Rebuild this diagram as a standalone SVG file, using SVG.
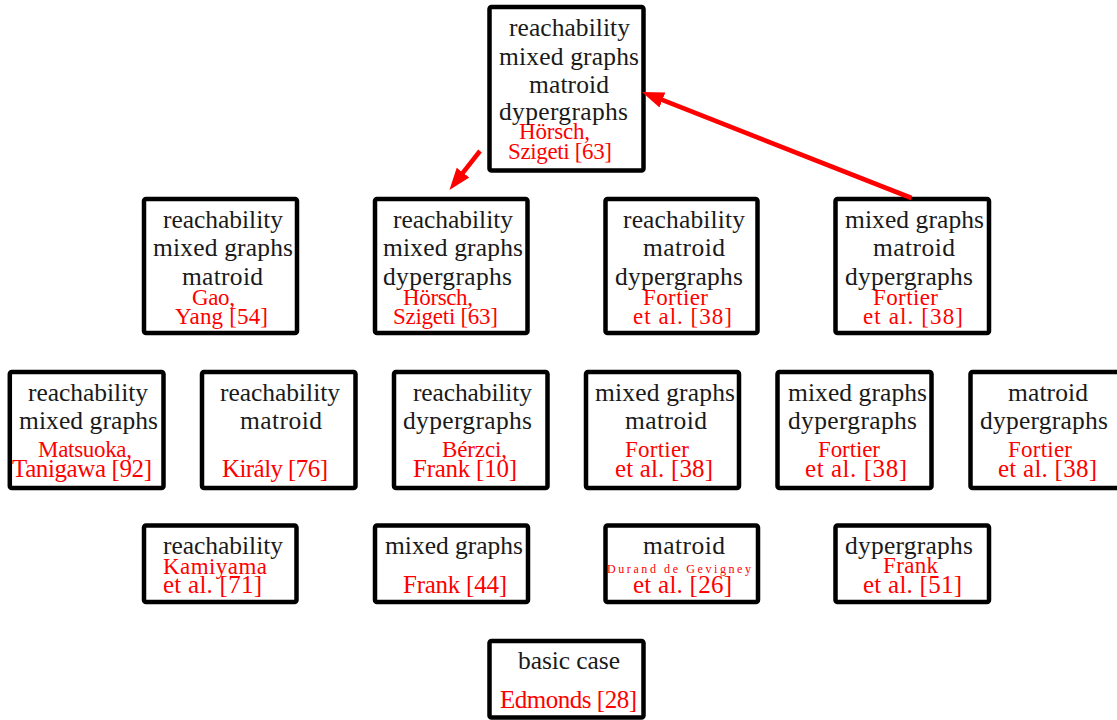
<svg xmlns="http://www.w3.org/2000/svg" width="1117" height="720" viewBox="0 0 1117 720">
<style>
.box{fill:#fff;stroke:#000;stroke-width:4.5;stroke-linejoin:round}
text{font-family:"Liberation Serif","Times New Roman",serif;text-anchor:middle}
.t{font-size:25.5px;fill:#1a1a1a}
.r{font-size:23px;fill:#ff0000}
.rl{font-size:25px;fill:#ff0000}
.rs{font-size:12px;fill:#ff0000}
.arrow{stroke:#ff0000;stroke-width:4.6;fill:none}
</style>
<defs>
<marker id="ah" markerUnits="userSpaceOnUse" markerWidth="24" markerHeight="20" viewBox="0 -10 24 20" refX="1" refY="0" orient="auto">
<path d="M0,-8 L22,0 L0,8 Z" fill="#ff0000"/>
</marker>
</defs>

<g id="n_top">
<rect class="box" x="489.5" y="7" width="154" height="163.5" rx="2"/>
<text class="t" x="569.5" y="36" textLength="121">reachability</text>
<text class="t" x="569" y="64.5" textLength="140">mixed graphs</text>
<text class="t" x="569" y="93" textLength="80">matroid</text>
<text class="t" x="563.5" y="120" textLength="129">dypergraphs</text>
<text class="r" x="554.5" y="139" textLength="71">Hörsch,</text>
<text class="r" x="560" y="159" textLength="104">Szigeti [63]</text>
</g>

<g id="n_rmm">
<rect class="box" x="144" y="199" width="153" height="134" rx="2"/>
<text class="t" x="223" y="227.5" textLength="120">reachability</text>
<text class="t" x="223" y="256" textLength="140">mixed graphs</text>
<text class="t" x="222.5" y="285" textLength="81">matroid</text>
<text class="r" x="213.5" y="305" textLength="43">Gao,</text>
<text class="r" x="221.5" y="324" textLength="93">Yang [54]</text>
</g>

<g id="n_rmd">
<rect class="box" x="375" y="199" width="152.5" height="134" rx="2"/>
<text class="t" x="453" y="227.5" textLength="120">reachability</text>
<text class="t" x="453" y="256" textLength="140">mixed graphs</text>
<text class="t" x="447.5" y="285" textLength="129">dypergraphs</text>
<text class="r" x="438" y="305" textLength="70">Hörsch,</text>
<text class="r" x="445.5" y="324" textLength="105">Szigeti [63]</text>
</g>

<g id="n_rtd">
<rect class="box" x="605.5" y="199" width="152" height="134" rx="2"/>
<text class="t" x="684" y="227.5" textLength="122">reachability</text>
<text class="t" x="684" y="256" textLength="82">matroid</text>
<text class="t" x="679" y="285" textLength="128">dypergraphs</text>
<text class="r" x="675.5" y="305" textLength="65">Fortier</text>
<text class="r" x="682.5" y="324" textLength="99">et al. [38]</text>
</g>

<g id="n_mtd">
<rect class="box" x="835.5" y="199" width="153.5" height="134" rx="2"/>
<text class="t" x="914.5" y="227.5" textLength="139">mixed graphs</text>
<text class="t" x="914" y="256" textLength="82">matroid</text>
<text class="t" x="909" y="285" textLength="128">dypergraphs</text>
<text class="r" x="905.5" y="305" textLength="65">Fortier</text>
<text class="r" x="913" y="324" textLength="100">et al. [38]</text>
</g>

<g id="n_rm">
<rect class="box" x="9.8" y="372" width="153.7" height="116" rx="2"/>
<text class="t" x="88" y="401" textLength="120">reachability</text>
<text class="t" x="88.5" y="429" textLength="139">mixed graphs</text>
<text class="r" x="85" y="457" textLength="94">Matsuoka,</text>
<text class="rl" x="82" y="477" textLength="140">Tanigawa [92]</text>
</g>

<g id="n_rt">
<rect class="box" x="202" y="372" width="153.5" height="116" rx="2"/>
<text class="t" x="280" y="401" textLength="120">reachability</text>
<text class="t" x="281" y="429" textLength="82">matroid</text>
<text class="rl" x="275" y="477" textLength="106">Király [76]</text>
</g>

<g id="n_rd">
<rect class="box" x="394" y="372" width="153.5" height="116" rx="2"/>
<text class="t" x="472.5" y="401" textLength="119">reachability</text>
<text class="t" x="467.5" y="429" textLength="129">dypergraphs</text>
<text class="r" x="474.5" y="457" textLength="65">Bérzci,</text>
<text class="rl" x="465" y="477" textLength="104">Frank [10]</text>
</g>

<g id="n_mt">
<rect class="box" x="586" y="372" width="153" height="116" rx="2"/>
<text class="t" x="665" y="401" textLength="140">mixed graphs</text>
<text class="t" x="666" y="429" textLength="82">matroid</text>
<text class="r" x="657" y="457" textLength="64">Fortier</text>
<text class="rl" x="664" y="477" textLength="98">et al. [38]</text>
</g>

<g id="n_md">
<rect class="box" x="777.5" y="372" width="154" height="116" rx="2"/>
<text class="t" x="857.5" y="401" textLength="139">mixed graphs</text>
<text class="t" x="852.5" y="429" textLength="129">dypergraphs</text>
<text class="r" x="849" y="457" textLength="62">Fortier</text>
<text class="rl" x="856" y="477" textLength="102">et al. [38]</text>
</g>

<g id="n_td">
<rect class="box" x="970.5" y="372" width="153.5" height="116" rx="2"/>
<text class="t" x="1048" y="401" textLength="80">matroid</text>
<text class="t" x="1044" y="429" textLength="128">dypergraphs</text>
<text class="r" x="1040" y="457" textLength="64">Fortier</text>
<text class="rl" x="1047.5" y="477" textLength="99">et al. [38]</text>
</g>

<g id="n_r">
<rect class="box" x="144" y="525.5" width="152.5" height="76.5" rx="2"/>
<text class="t" x="223" y="554" textLength="120">reachability</text>
<text class="r" x="215" y="573.5" textLength="104">Kamiyama</text>
<text class="rl" x="212.5" y="593" textLength="99">et al. [71]</text>
</g>

<g id="n_m">
<rect class="box" x="375" y="525.5" width="153" height="76.5" rx="2"/>
<text class="t" x="454" y="554" textLength="138">mixed graphs</text>
<text class="rl" x="455" y="593" textLength="104">Frank [44]</text>
</g>

<g id="n_t">
<rect class="box" x="605.5" y="525.5" width="152.5" height="76.5" rx="2"/>
<text class="t" x="684" y="553.5" textLength="82">matroid</text>
<text class="rs" x="679" y="572.5" textLength="144">Durand de Gevigney</text>
<text class="rl" x="682.5" y="593" textLength="99">et al. [26]</text>
</g>

<g id="n_d">
<rect class="box" x="835.5" y="525.5" width="153.5" height="76.5" rx="2"/>
<text class="t" x="909" y="553.5" textLength="128">dypergraphs</text>
<text class="r" x="910.5" y="573" textLength="55">Frank</text>
<text class="rl" x="912.5" y="593" textLength="99">et al. [51]</text>
</g>

<g id="n_basic">
<rect class="box" x="489.5" y="641" width="154" height="76.5" rx="2"/>
<text class="t" x="569" y="669" textLength="102">basic case</text>
<text class="rl" x="568.5" y="708" textLength="137">Edmonds [28]</text>
</g>

<g id="connectors">
<line class="arrow" x1="911.5" y1="198" x2="661.5" y2="99.7" marker-end="url(#ah)"/>
<line class="arrow" x1="480" y1="151" x2="462.4" y2="173.4" marker-end="url(#ah)"/>
</g>
</svg>
